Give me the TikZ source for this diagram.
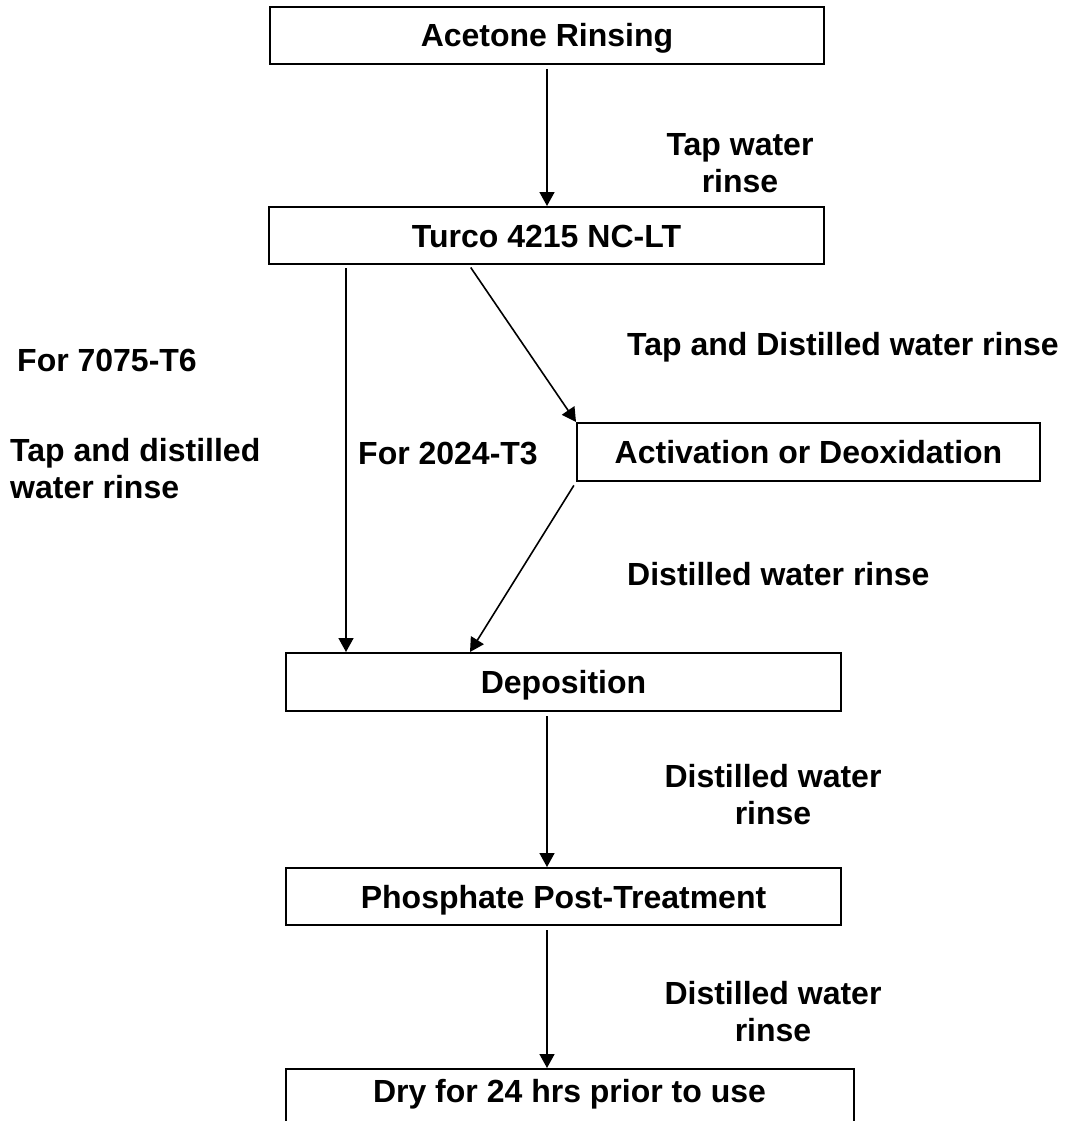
\documentclass[tikz,border=0pt]{standalone}
\usepackage{fontspec}
\setmainfont{Liberation Sans}
\usetikzlibrary{arrows.meta}
\begin{document}
\begin{tikzpicture}[x=1pt,y=-1pt,
  txt/.style={font=\bfseries\fontsize{32}{37}\selectfont},
  box/.style={txt,draw,line width=2pt,inner sep=0pt,text height=23pt,text depth=0pt},
  lbl/.style={txt,inner sep=0pt,text height=23pt,text depth=0pt},
  mlbl/.style={txt,inner sep=0pt,align=center},
  arr/.style={-{Triangle[length=14pt,width=15pt]},line width=1.6pt}]
\clip (0,0) rectangle (1066,1121);
\fill[white] (0,0) rectangle (1066,1121);
% boxes
\node[box,minimum width=554pt,minimum height=57pt] (acet) at (547,35.5) {Acetone Rinsing};
\node[box,minimum width=555pt,minimum height=57pt] (turco) at (546.5,235.5) {Turco 4215 NC-LT};
\node[box,minimum width=463pt,minimum height=58pt] (act) at (808.5,452) {Activation or Deoxidation};
\node[box,minimum width=555pt,minimum height=58pt] (dep) at (563.5,682) {Deposition};
\node[box,minimum width=555pt,minimum height=57pt] (phos) at (563.5,896.5) {Phosphate Post-Treatment};
\node[box,minimum width=568pt,minimum height=100pt] (dry) at (570,1119) {};
\node[lbl] (dryt) at (569.5,1091) {Dry for 24 hrs prior to use};
% labels
\node[mlbl,anchor=north] (l1) at (740,133) {Tap water\\rinse};
\node[lbl,anchor=west] (l2) at (17,360) {For 7075-T6};
\node[lbl,anchor=west] (l3) at (627,344) {Tap and Distilled water rinse};
\node[mlbl,anchor=north west,align=left] (l4) at (10,438.5) {Tap and distilled\\water rinse};
\node[lbl,anchor=west] (l5) at (358,453) {For 2024-T3};
\node[lbl,anchor=west] (l6) at (627,574) {Distilled water rinse};
\node[mlbl,anchor=north] (l7) at (773,764.5) {Distilled water\\rinse};
\node[mlbl,anchor=north] (l8) at (773,981.5) {Distilled water\\rinse};
% connectors
\draw[arr,shorten <=4pt] (acet.south) -- (acet.south |- turco.north);
\coordinate (t1) at ([xshift=78pt]turco.south west);
\draw[arr,shorten <=3pt] (t1) -- (t1 |- dep.north);
\coordinate (t2) at ([xshift=201pt]turco.south west);
\draw[arr,shorten <=3pt] (t2) -- (act.north west);
\coordinate (d2) at ([xshift=185pt]dep.north west);
\draw[arr,shorten <=4pt] (act.south west) -- (d2);
\coordinate (d3) at ([xshift=-16.5pt]dep.south);
\draw[arr,shorten <=4pt] (d3) -- (d3 |- phos.north);
\draw[arr,shorten <=4pt] (d3 |- phos.south) -- (d3 |- dry.north);
\end{tikzpicture}
\end{document}
